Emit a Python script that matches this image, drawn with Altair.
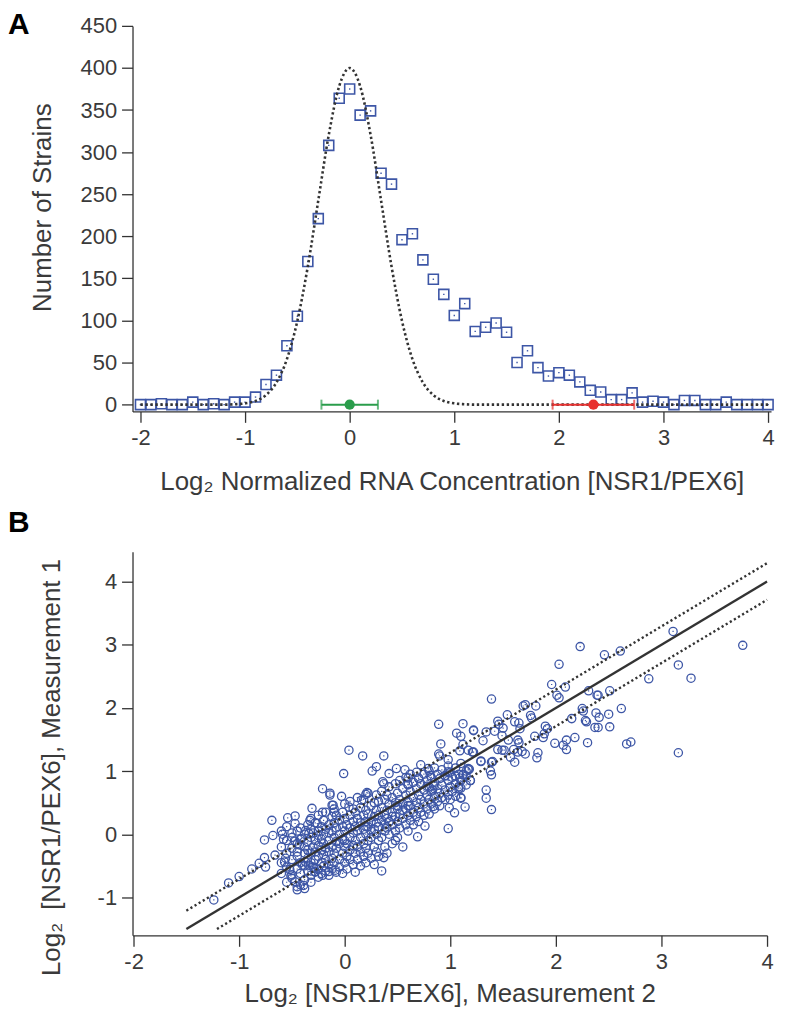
import altair as alt
import pandas as pd

FONT = "Liberation Sans"
TXT = "#3a3a3a"
BLUE = "#3d56a6"
DARK = "#333333"
GREEN = "#2a9d4b"
RED = "#e8312f"

# ---------------- Panel A data ----------------
hist_x = [round(-2.0 + 0.1 * i, 1) for i in range(61)]
hist_counts = [0, 0, 1, 0, 0, 3, 0, 1, 0, 3, 3,
               9, 24, 35, 70, 105, 170, 221, 308, 364,
               375, 344, 349, 275, 262, 196, 203, 172, 149, 131,
               106, 120, 87, 92, 97, 86, 50, 64, 44, 34,
               38, 35, 27, 17, 15, 6, 6, 14, 3, 4,
               3, 0, 5, 5, 0, 0, 3, 0, 0, 0, 0]
fit_counts = [0, 0, 0, 0, 0, 0, 0, 0, 0, 0.5, 1.5,
              4.4, 11.4, 26.3, 54.1, 99.6, 164.3, 242.6, 320.4, 378.4,
              400, 378.4, 320.4, 242.6, 164.3, 99.6, 54.1, 26.3, 11.4, 4.4,
              1.5, 0.5, 0, 0, 0, 0, 0, 0, 0, 0,
              0, 0, 0, 0, 0, 0, 0, 0, 0, 0,
              0, 0, 0, 0, 0, 0, 0, 0, 0, 0, 0]
err_center = [0.0, 2.33]
err_low = [-0.27, 1.94]
err_high = [0.27, 2.72]
err_group = ["wt", "mut"]

# ---------------- Panel B data ----------------
outliers = [
    (3.11, 3.21), (3.77, 2.99), (2.61, 2.90), (2.46, 2.84), (3.16, 2.68), (2.88, 2.46),
    (3.28, 2.47), (2.51, 2.27), (2.40, 2.20), (2.62, 1.99), (2.50, 1.90), (2.41, 1.85),
    (2.51, 1.70), (2.40, 1.69), (2.67, 1.43), (2.71, 1.46), (3.16, 1.29),
    (2.23, 2.97), (2.03, 2.69), (1.96, 2.37), (2.09, 2.33), (2.01, 2.20), (2.03, 2.16),
    (2.31, 2.27), (2.39, 2.20), (1.39, 2.14), (1.69, 2.03), (1.71, 2.05), (1.81, 2.03),
    (2.25, 1.99), (2.26, 1.95), (2.15, 1.83), (2.28, 1.80), (2.29, 1.78), (2.38, 1.92),
    (2.37, 1.69), (1.54, 1.89), (1.76, 1.88), (1.77, 1.84), (1.45, 1.79), (1.46, 1.74),
    (1.61, 1.78), (1.65, 1.76), (1.66, 1.67), (1.50, 1.68), (1.42, 1.63), (1.34, 1.62),
    (1.22, 1.64), (1.49, 1.56), (1.90, 1.71), (1.92, 1.67), (1.89, 1.59), (1.80, 1.55),
    (1.88, 1.53), (1.99, 1.44), (2.10, 1.49), (2.07, 1.41), (2.10, 1.34), (2.18, 1.53),
    (2.30, 1.45), (1.31, 1.48), (1.55, 1.49), (1.64, 1.49), (1.65, 1.45), (1.45, 1.34),
    (1.49, 1.33), (1.51, 1.33), (1.60, 1.34), (1.64, 1.30), (1.68, 1.31), (1.71, 1.27),
    (1.57, 1.22), (1.61, 1.14), (1.83, 1.29), (1.82, 1.21), (1.21, 1.30), (1.29, 1.15),
    (1.40, 1.15), (1.18, 1.03), (1.19, 0.85), (1.38, 1.00), (1.39, 0.94), (1.34, 0.70),
    (1.34, 0.57), (1.39, 0.39), (1.39, 1.14), (1.29, 1.16), (1.17, 1.04), (1.12, 0.94),
    (1.08, 0.75), (1.10, 0.57),
    (0.89, 1.74), (1.12, 1.75), (1.06, 1.60), (1.10, 1.55), (1.22, 1.65), (0.04, 1.33),
    (0.17, 1.24), (0.37, 1.24), (0.91, 1.43), (0.89, 1.27), (0.90, 1.24), (0.98, 1.18),
    (1.09, 1.32), (1.12, 1.42), (1.17, 1.33), (1.22, 1.30), (-0.01, 0.96), (0.26, 1.00),
    (0.30, 1.07), (0.42, 0.96), (0.49, 1.04), (0.57, 1.02), (0.60, 0.89), (0.60, 0.79),
    (0.70, 0.89), (0.72, 1.10), (0.79, 1.04), (0.81, 0.93), (0.84, 0.77), (0.83, 0.70),
    (0.95, 0.93), (0.98, 0.99), (1.05, 0.92), (1.09, 0.89), (1.12, 0.94), (1.17, 1.02),
    (1.19, 0.85), (1.10, 0.73), (1.10, 0.58), (1.14, 0.43), (0.99, 0.42), (1.04, 0.34),
    (0.98, 0.09), (0.76, 0.13), (0.69, -0.04), (0.84, 0.44), (0.48, -0.10), (0.37, -0.37),
    (-0.03, 0.60), (-0.14, 0.65), (-0.11, 0.46), (0.04, 0.43), (0.16, 0.54), (0.20, 0.63),
    (0.21, 0.66), (0.36, 0.83), (0.37, 0.80), (0.78, 0.76),
    (-1.24, -1.04), (-1.10, -0.77), (-1.00, -0.67), (-0.88, -0.55), (-0.81, -0.46),
    (-0.76, -0.37), (-0.75, -0.52), (-0.76, -0.09), (-0.69, 0.22), (-0.68, -0.02),
    (-0.59, 0.00), (-0.58, -0.08), (-0.66, -0.33), (-0.54, 0.26), (-0.47, 0.29),
    (-0.47, 0.17), (-0.56, -0.38), (-0.57, -0.44), (-0.52, -0.56), (-0.51, -0.66),
    (-0.47, -0.75), (-0.45, -0.83), (-0.39, -0.81), (-0.47, -0.11), (-0.43, -0.17),
    (-0.41, -0.07), (-0.31, 0.41), (-0.21, 0.72), (-0.14, 0.62), (-0.33, 0.22),
    (-0.26, 0.17), (-0.37, 0.06), (-0.34, 0.01), (-0.21, 0.35), (-0.12, 0.46),
    (-0.10, 0.35), (-0.28, -0.59), (-0.21, -0.65), (-0.15, -0.59), (-0.09, -0.57),
    (-0.34, -0.49), (-0.29, -0.54), (-0.40, -0.49), (-0.37, -0.44),
    (-0.45, -0.88), (-0.42, -0.80), (-0.38, -0.86), (-0.32, -0.76), (-0.25, -0.68),
    (-0.55, -0.76), (-0.50, -0.64),
]

core = [
    (-0.60, [-0.45, -0.20, 0.05, -0.62]),
    (-0.55, [-0.30, -0.10, -0.52, 0.12]),
    (-0.50, [-0.40, -0.22, -0.05, -0.70, 0.02]),
    (-0.45, [-0.55, -0.35, -0.15, 0.05, -0.28]),
    (-0.42, [-0.62, -0.45, -0.08, 0.10]),
    (-0.38, [-0.50, -0.30, -0.20, 0.00, -0.72]),
    (-0.35, [-0.38, -0.12, 0.15, -0.58, -0.25]),
    (-0.32, [-0.65, -0.45, -0.30, -0.05, 0.08, 0.25]),
    (-0.30, [-0.20, -0.52, 0.02]),
    (-0.28, [-0.40, -0.10, -0.60, 0.18, -0.28]),
    (-0.25, [-0.55, -0.35, -0.18, 0.05, 0.30, -0.02]),
    (-0.22, [-0.45, -0.25, -0.08, 0.12, -0.62]),
    (-0.20, [-0.32, 0.00, 0.22, -0.50, -0.15]),
    (-0.18, [-0.58, -0.40, -0.22, 0.08, 0.35]),
    (-0.15, [-0.28, -0.10, 0.15, -0.48, -0.65, 0.02]),
    (-0.12, [-0.38, -0.20, 0.05, 0.28, -0.55]),
    (-0.10, [-0.30, -0.05, 0.18, -0.45, 0.40]),
    (-0.08, [-0.60, -0.22, 0.10, -0.12, 0.30]),
    (-0.05, [-0.40, -0.15, 0.00, 0.22, -0.52]),
    (-0.02, [-0.30, -0.08, 0.12, 0.35, -0.62]),
    (0.00, [-0.45, -0.20, 0.05, 0.25, -0.10, 0.48]),
    (0.02, [-0.35, -0.15, 0.15, -0.55]),
    (0.05, [-0.25, -0.05, 0.10, 0.30, -0.40, 0.52]),
    (0.08, [-0.48, -0.18, 0.02, 0.20, 0.40]),
    (0.10, [-0.30, -0.10, 0.12, 0.35, -0.60]),
    (0.12, [-0.40, -0.20, 0.05, 0.25, 0.58]),
    (0.15, [-0.28, -0.05, 0.18, 0.42, -0.50]),
    (0.18, [-0.15, 0.08, 0.30, -0.35, 0.55]),
    (0.20, [-0.45, -0.22, 0.00, 0.20, 0.38, 0.12]),
    (0.22, [-0.10, 0.12, 0.32, -0.30, 0.65]),
    (0.25, [-0.38, -0.05, 0.20, 0.45, 0.05]),
    (0.28, [-0.20, 0.08, 0.28, 0.50, -0.48]),
    (0.30, [-0.28, 0.00, 0.18, 0.38, 0.62]),
    (0.32, [-0.10, 0.12, 0.30, 0.52, -0.35]),
    (0.35, [-0.05, 0.22, 0.42, 0.68, -0.58]),
    (0.38, [-0.20, 0.05, 0.30, 0.55, 0.15]),
    (0.40, [-0.30, 0.10, 0.38, 0.62, 0.25]),
    (0.42, [0.00, 0.20, 0.48, 0.75]),
    (0.45, [-0.15, 0.15, 0.35, 0.58, 0.28]),
    (0.48, [0.05, 0.28, 0.50, 0.80]),
    (0.50, [-0.05, 0.20, 0.40, 0.65, 0.45]),
    (0.52, [0.10, 0.32, 0.55, 0.85]),
    (0.55, [-0.20, 0.25, 0.48, 0.72, 0.38]),
    (0.58, [0.15, 0.40, 0.62, 0.90]),
    (0.60, [0.05, 0.30, 0.52, 0.78, 0.45]),
    (0.62, [0.22, 0.45, 0.68, 0.95]),
    (0.65, [0.35, 0.58, 0.82, 0.15]),
    (0.68, [0.28, 0.50, 0.72, 0.98]),
    (0.70, [0.42, 0.62, 0.88, 0.20]),
    (0.72, [0.35, 0.55, 0.80]),
    (0.75, [0.48, 0.70, 0.95, 0.30]),
    (0.78, [0.40, 0.62, 0.85]),
    (0.80, [0.55, 0.75, 1.00, 0.32]),
    (0.82, [0.48, 0.68, 0.90]),
    (0.85, [0.60, 0.82, 0.40, 1.05]),
    (0.88, [0.52, 0.72, 0.95]),
    (0.90, [0.65, 0.88, 0.45]),
    (0.92, [0.58, 0.78, 1.02]),
    (0.95, [0.70, 0.92, 0.55]),
    (0.98, [0.62, 0.85, 1.08]),
    (1.00, [0.75, 0.98, 0.55]),
    (1.02, [0.68, 0.90]),
    (1.05, [0.80, 1.05, 0.60]),
    (1.08, [0.95, 0.72]),
    (1.10, [0.85, 1.12]),
    (1.15, [0.92, 1.00, 0.78]),
]

line_x = [-1.5, 4.0]
line_y = [-1.5, 4.0]
upper_x = [-1.5, 4.0]
upper_y = [-1.21, 4.29]
lower_x = [-1.21, 4.0]
lower_y = [-1.5, 3.71]

# ---------------- build tables ----------------
hist_df = pd.DataFrame({"x": hist_x, "count": hist_counts})
fit_df = pd.DataFrame({"x": hist_x, "fit": fit_counts})
err_df = pd.DataFrame({"c": err_center, "lo": err_low, "hi": err_high,
                       "g": err_group, "y": [0, 0]})

pts = list(outliers)
for xv, ys in core:
    for yv in ys:
        pts.append((xv, yv))
scat_df = pd.DataFrame(pts, columns=["m2", "m1"])

lines_df = pd.DataFrame({
    "x": line_x + upper_x + lower_x,
    "y": line_y + upper_y + lower_y,
    "k": ["fit"] * 2 + ["up"] * 2 + ["lo"] * 2,
})

LBL = "'' + datum.value"

# ---------------- Panel A ----------------
xA = alt.X("x:Q", scale=alt.Scale(domain=[-2.076, 4.028], nice=False, zero=False),
           axis=alt.Axis(values=[-2, -1, 0, 1, 2, 3, 4], labelExpr=LBL,
                         title="Log₂ Normalized RNA Concentration [NSR1/PEX6]",
                         titlePadding=20))
yA = alt.Y("count:Q", scale=alt.Scale(domain=[-8, 450], nice=False, zero=False),
           axis=alt.Axis(values=list(range(0, 451, 50)), labelExpr=LBL,
                         title="Number of Strains", titlePadding=25, titleY=182))

squares = alt.Chart(hist_df).mark_point(
    shape="square", filled=False, size=100, strokeWidth=1.6, color=BLUE, opacity=1
).encode(x=xA, y=yA)
sq_dots = alt.Chart(hist_df).mark_point(
    shape="square", filled=True, size=2, color=BLUE, opacity=1
).encode(x="x:Q", y="count:Q")
fit_line = alt.Chart(fit_df).mark_line(
    color=DARK, strokeWidth=2.6, strokeDash=[2.4, 2.6], interpolate="monotone"
).encode(x="x:Q", y=alt.Y("fit:Q"))

err_color = alt.Color("g:N", scale=alt.Scale(domain=["wt", "mut"], range=[GREEN, RED]),
                      legend=None)
err_rule = alt.Chart(err_df).mark_rule(strokeWidth=2).encode(
    x="lo:Q", x2="hi:Q", y="y:Q", color=err_color)
cap_lo = alt.Chart(err_df).mark_tick(orient="vertical", size=10, thickness=2).encode(
    x="lo:Q", y="y:Q", color=err_color)
cap_hi = alt.Chart(err_df).mark_tick(orient="vertical", size=10, thickness=2).encode(
    x="hi:Q", y="y:Q", color=err_color)
err_dot = alt.Chart(err_df).mark_circle(size=105, opacity=1).encode(
    x="c:Q", y="y:Q", color=err_color)

label_a = alt.Chart(pd.DataFrame({"t": ["A"]})).mark_text(
    font=FONT, fontSize=30, fontWeight="bold", color="#000", align="left",
    baseline="top"
).encode(text="t:N", x=alt.value(-125), y=alt.value(-16))

panel_a = alt.layer(squares, sq_dots, fit_line, err_rule, cap_lo, cap_hi, err_dot,
                    label_a).properties(width=641, height=387)

# ---------------- Panel B ----------------
xB = alt.X("m2:Q", scale=alt.Scale(domain=[-2.01, 4.0], nice=False, zero=False),
           axis=alt.Axis(values=[-2, -1, 0, 1, 2, 3, 4], labelExpr=LBL,
                         title="Log₂ [NSR1/PEX6], Measurement 2", titlePadding=8))
yB = alt.Y("m1:Q", scale=alt.Scale(domain=[-1.6, 4.47], nice=False, zero=False),
           axis=alt.Axis(values=[-1, 0, 1, 2, 3, 4], labelExpr=LBL,
                         title="Log₂\u2002[NSR1/PEX6], Measurement 1",
                         titlePadding=33, titleY=216))

circles = alt.Chart(scat_df).mark_point(
    shape="circle", filled=False, size=68, strokeWidth=1.3, color=BLUE, opacity=1
).encode(x=xB, y=yB)
c_dots = alt.Chart(scat_df).mark_point(
    shape="square", filled=True, size=1.5, color=BLUE, opacity=1
).encode(x="m2:Q", y="m1:Q")

solid = alt.Chart(lines_df).transform_filter(alt.datum.k == "fit").mark_line(
    color=DARK, strokeWidth=2.4).encode(x="x:Q", y="y:Q")
dotted = alt.Chart(lines_df).transform_filter(alt.datum.k != "fit").mark_line(
    color=DARK, strokeWidth=2.4, strokeDash=[2.2, 2.6]).encode(
    x="x:Q", y="y:Q", detail="k:N")

label_b = alt.Chart(pd.DataFrame({"t": ["B"]})).mark_text(
    font=FONT, fontSize=30, fontWeight="bold", color="#000", align="left",
    baseline="top"
).encode(text="t:N", x=alt.value(-125), y=alt.value(-44))

panel_b = alt.layer(circles, c_dots, solid, dotted, label_b).properties(
    width=637, height=385)

chart = alt.vconcat(panel_a, panel_b, spacing=14).properties(
    padding={"left": 0, "top": 0, "right": 0, "bottom": 0}
).configure_view(stroke=None).configure_axis(
    grid=False, domainColor=DARK, domainWidth=1.3, tickColor=DARK, tickWidth=1.3,
    tickSize=11, labelFont=FONT, labelFontSize=22, labelColor=TXT, labelPadding=5,
    titleFont=FONT, titleFontSize=26, titleFontWeight="normal", titleColor=TXT,
    labelFlush=False, labelOverlap=False
)

chart.save("out.html", embed_options={"renderer": "svg", "actions": False})
